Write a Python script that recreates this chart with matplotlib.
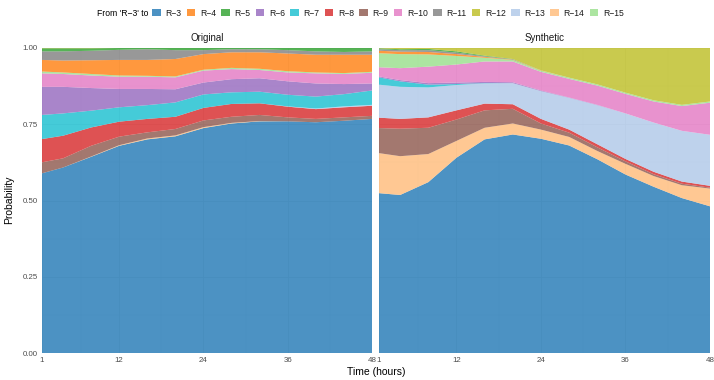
import matplotlib
matplotlib.use("Agg")
import matplotlib.pyplot as plt
from matplotlib.patches import Patch
from matplotlib.ticker import FixedLocator

plt.rcParams['font.family'] = ['Liberation Sans', 'DejaVu Sans']

# ---------------- data ----------------
hours = [1, 4, 8, 12, 16, 20, 24, 28, 32, 36, 40, 44, 48]
legend_order = ["R−3", "R−4", "R−5", "R−6", "R−7", "R−8", "R−9",
                "R−10", "R−11", "R−12", "R−13", "R−14", "R−15"]
stack_order = ["R−3", "R−14", "R−9", "R−8", "R−13", "R−7", "R−6",
               "R−10", "R−15", "R−4", "R−11", "R−5", "R−12"]
panel_titles = ["Original", "Synthetic"]
x_ticks = [1, 12, 24, 36, 48]
y_ticks = [0.0, 0.25, 0.5, 0.75, 1.0]

# Original panel
orig_r3 = [0.589, 0.608, 0.643, 0.679, 0.700, 0.710, 0.737, 0.752, 0.759, 0.759, 0.756, 0.761, 0.767]
orig_r14 = [0.000, 0.000, 0.001, 0.002, 0.003, 0.003, 0.003, 0.002, 0.001, 0.000, 0.000, 0.000, 0.000]
orig_r9 = [0.036, 0.030, 0.035, 0.028, 0.020, 0.021, 0.022, 0.020, 0.020, 0.013, 0.011, 0.011, 0.010]
orig_r8 = [0.076, 0.074, 0.060, 0.049, 0.044, 0.040, 0.041, 0.042, 0.038, 0.035, 0.032, 0.033, 0.033]
orig_r13 = [0.000, 0.000, 0.000, 0.000, 0.000, 0.000, 0.000, 0.000, 0.000, 0.001, 0.002, 0.003, 0.003]
orig_r7 = [0.079, 0.073, 0.055, 0.047, 0.045, 0.047, 0.044, 0.038, 0.038, 0.038, 0.039, 0.040, 0.047]
orig_r6 = [0.092, 0.087, 0.074, 0.060, 0.053, 0.043, 0.039, 0.043, 0.044, 0.044, 0.043, 0.033, 0.023]
orig_r10 = [0.044, 0.042, 0.041, 0.040, 0.040, 0.039, 0.039, 0.033, 0.027, 0.029, 0.033, 0.033, 0.035]
orig_r15 = [0.006, 0.005, 0.005, 0.004, 0.003, 0.003, 0.003, 0.004, 0.004, 0.004, 0.003, 0.003, 0.003]
orig_r4 = [0.038, 0.039, 0.045, 0.051, 0.052, 0.057, 0.051, 0.051, 0.054, 0.058, 0.058, 0.060, 0.056]
orig_r11 = [0.028, 0.030, 0.031, 0.033, 0.035, 0.029, 0.013, 0.010, 0.010, 0.011, 0.011, 0.009, 0.011]
orig_r5 = [0.010, 0.010, 0.008, 0.006, 0.004, 0.007, 0.008, 0.005, 0.005, 0.008, 0.012, 0.014, 0.012]
orig_r12 = [0.002, 0.002, 0.002, 0.001, 0.001, 0.001, 0.000, 0.000, 0.000, 0.000, 0.000, 0.000, 0.000]

# Synthetic panel
syn_r3 = [0.524, 0.518, 0.560, 0.640, 0.700, 0.716, 0.702, 0.680, 0.635, 0.585, 0.545, 0.508, 0.481]
syn_r14 = [0.131, 0.127, 0.092, 0.055, 0.038, 0.036, 0.030, 0.028, 0.027, 0.035, 0.035, 0.042, 0.058]
syn_r9 = [0.082, 0.090, 0.086, 0.070, 0.057, 0.048, 0.020, 0.014, 0.012, 0.008, 0.006, 0.005, 0.003]
syn_r8 = [0.034, 0.032, 0.034, 0.030, 0.022, 0.015, 0.015, 0.010, 0.010, 0.008, 0.008, 0.007, 0.006]
syn_r13 = [0.108, 0.105, 0.098, 0.083, 0.066, 0.069, 0.091, 0.104, 0.128, 0.149, 0.161, 0.166, 0.167]
syn_r7 = [0.024, 0.018, 0.009, 0.003, 0.001, 0.000, 0.000, 0.000, 0.000, 0.000, 0.000, 0.000, 0.000]
syn_r6 = [0.003, 0.004, 0.005, 0.005, 0.004, 0.003, 0.002, 0.001, 0.001, 0.000, 0.000, 0.000, 0.000]
syn_r10 = [0.030, 0.039, 0.054, 0.059, 0.067, 0.068, 0.061, 0.061, 0.063, 0.064, 0.069, 0.081, 0.105]
syn_r15 = [0.046, 0.046, 0.040, 0.028, 0.012, 0.005, 0.004, 0.004, 0.004, 0.004, 0.004, 0.004, 0.004]
syn_r4 = [0.008, 0.008, 0.008, 0.006, 0.003, 0.001, 0.001, 0.000, 0.000, 0.000, 0.000, 0.000, 0.000]
syn_r11 = [0.005, 0.005, 0.006, 0.005, 0.002, 0.001, 0.000, 0.000, 0.000, 0.000, 0.000, 0.000, 0.000]
syn_r5 = [0.003, 0.003, 0.004, 0.004, 0.002, 0.001, 0.000, 0.000, 0.000, 0.000, 0.000, 0.000, 0.000]
syn_r12 = [0.002, 0.005, 0.004, 0.012, 0.026, 0.037, 0.074, 0.098, 0.120, 0.147, 0.172, 0.187, 0.176]

original = {"R−3": orig_r3, "R−14": orig_r14, "R−9": orig_r9, "R−8": orig_r8,
            "R−13": orig_r13, "R−7": orig_r7, "R−6": orig_r6, "R−10": orig_r10,
            "R−15": orig_r15, "R−4": orig_r4, "R−11": orig_r11, "R−5": orig_r5,
            "R−12": orig_r12}
synthetic = {"R−3": syn_r3, "R−14": syn_r14, "R−9": syn_r9, "R−8": syn_r8,
             "R−13": syn_r13, "R−7": syn_r7, "R−6": syn_r6, "R−10": syn_r10,
             "R−15": syn_r15, "R−4": syn_r4, "R−11": syn_r11, "R−5": syn_r5,
             "R−12": syn_r12}

colors = {"R−3": "#1f77b4", "R−4": "#ff7f0e", "R−5": "#2ca02c", "R−6": "#9467bd",
          "R−7": "#17becf", "R−8": "#d62728", "R−9": "#8c564b", "R−10": "#e377c2",
          "R−11": "#7f7f7f", "R−12": "#bcbd22", "R−13": "#aec7e8", "R−14": "#ffbb78",
          "R−15": "#98df8a"}
ALPHA = 0.8

# ---------------- figure ----------------
W, H = 714, 380
fig = plt.figure(figsize=(W / 100, H / 100), dpi=100)

panel_px = [(42, 372), (379, 710)]
top_px, bot_px = 47.7, 353.3

tick_col = "#4d4d4d"
for i, (data, title) in enumerate(zip([original, synthetic], panel_titles)):
    x0, x1 = panel_px[i]
    ax = fig.add_axes([x0 / W, 1 - bot_px / H, (x1 - x0) / W, (bot_px - top_px) / H])
    ax.set_axisbelow(True)
    ys = [data[k] for k in stack_order]
    cols = [colors[k] for k in stack_order]
    ax.stackplot(hours, ys, colors=cols, alpha=ALPHA, linewidth=0)
    ax.set_xlim(1, 48)
    ax.set_ylim(0, 1)
    ax.xaxis.set_major_locator(FixedLocator(x_ticks))
    ax.xaxis.set_minor_locator(FixedLocator([6.5, 18, 30, 42]))
    ax.yaxis.set_major_locator(FixedLocator(y_ticks))
    ax.yaxis.set_minor_locator(FixedLocator([0.125, 0.375, 0.625, 0.875]))
    ax.grid(which="major", color="#e6e6e6", linewidth=0.6)
    ax.grid(which="minor", color="#eeeeee", linewidth=0.35)
    for s in ax.spines.values():
        s.set_visible(False)
    ax.tick_params(which="both", length=0, labelsize=5.7, labelcolor=tick_col, pad=3)
    ax.set_xticklabels([str(t) for t in x_ticks])
    if i == 0:
        ax.set_yticklabels([f"{t:.2f}" for t in y_ticks])
    else:
        ax.set_yticklabels([])
    ax.set_title(title, fontsize=7, color="#1a1a1a", pad=5)

fig.text(((42 + 710) / 2) / W, 1 - 372 / H, "Time (hours)", ha="center", va="center",
         fontsize=7.5, color="black")
fig.text(9 / W, 1 - 200 / H, "Probability", ha="center", va="center",
         rotation=90, fontsize=7.5, color="black")

# legend
fig.text(97 / W, 1 - 13 / H, "From 'R−3' to", ha="left", va="center", fontsize=6.2,
         color="black")
handles = [Patch(facecolor=colors[k], alpha=ALPHA, edgecolor="none") for k in legend_order]
fig.legend(handles, legend_order, loc="center left", bbox_to_anchor=(152 / W, 1 - 13 / H),
           ncol=len(legend_order), frameon=False, fontsize=6.2, handlelength=1.0,
           handleheight=1.0, handletextpad=0.55, columnspacing=0.6,
           borderpad=0.0, borderaxespad=0.0, labelcolor="#1a1a1a")

fig.savefig("out.png", dpi=100, facecolor="white")
